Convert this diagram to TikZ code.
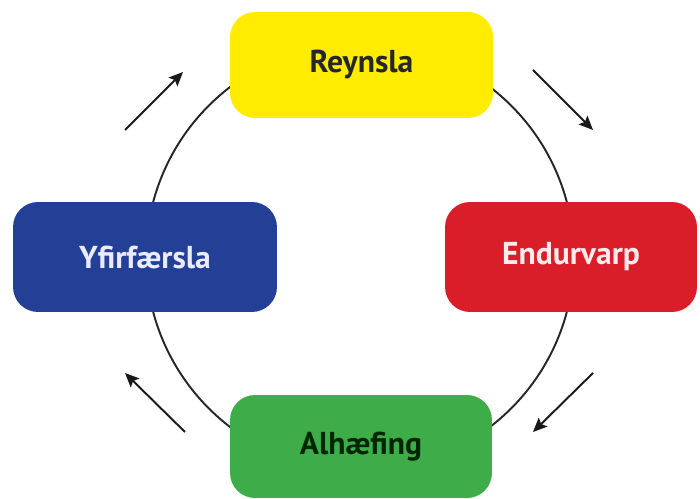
\documentclass[tikz,border=0pt]{standalone}
\usepackage{fontspec}
\setmainfont{PT Sans}
\usetikzlibrary{arrows.meta}
\usetikzlibrary{backgrounds}
\usepackage{xcolor}

\definecolor{reyngul}{RGB}{255,236,0}
\definecolor{endraud}{RGB}{217,30,42}
\definecolor{yfirblar}{RGB}{36,64,150}
\definecolor{alhgraen}{RGB}{62,172,72}

\begin{document}
\begin{tikzpicture}[x=.02cm, y=-.02cm]
\tikzset{stage/.style={rounded corners=.5cm, inner sep=0, font=\fontsize{18}{22}\selectfont\bfseries}}
\useasboundingbox (0,0) rectangle (700,499);
\node[stage, fill=reyngul, text=black!85, minimum width=5.26cm, minimum height=2.12cm] (reynsla) at (361.5,65) {Reynsla};
\node[stage, fill=endraud, text=white!92!red, minimum width=5.04cm, minimum height=2.2cm] (endurvarp) at (571,257) {Endurvarp};
\node[stage, fill=alhgraen, text=black!85!green, minimum width=5.24cm, minimum height=2.06cm] (alhaefing) at (361,446.5) {Alhæfing};
\node[stage, fill=yfirblar, text=white!92!blue, minimum width=5.28cm, minimum height=2.2cm] (yfirfaersla) at (145,257) {Yfirfærsla};
\coordinate (hringur) at (360,257);
\begin{scope}[on background layer]
 \draw[black!85, line width=1.1pt] (hringur) circle (4.28cm);
\end{scope}
\foreach \xa/\ya/\xb/\yb [count=\i] in {125/130/183/72, 533/70/593/130, 593/373/533/432, 185/432/125/373} {
 \coordinate (ur\i) at (\xa,\ya);
 \coordinate (til\i) at (\xb,\yb);
 \draw[black!90, line width=1.1pt, ->, >={Stealth[length=8pt, width=7pt, inset=1.5pt]}] (ur\i) -- (til\i);
}
\end{tikzpicture}
\end{document}
